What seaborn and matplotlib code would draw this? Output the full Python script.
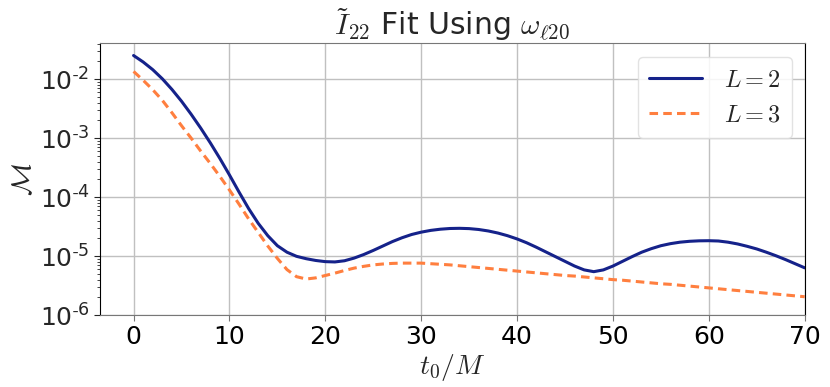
import numpy as np
import pandas as pd
import matplotlib
matplotlib.use("Agg")
import matplotlib.pyplot as plt
import matplotlib.ticker as mticker
import seaborn as sns

# t0/M sample points
t0 = list(range(0, 71))

# log10 of mismatch
log10_M_L2 = [-1.600, -1.710, -1.840, -1.995, -2.175, -2.375, -2.595, -2.830, -3.080, -3.345,
              -3.625, -3.915, -4.195, -4.445, -4.655, -4.825, -4.935, -5.005, -5.045, -5.075,
              -5.095, -5.100, -5.080, -5.035, -4.975, -4.905, -4.830, -4.755, -4.690, -4.635,
              -4.595, -4.565, -4.545, -4.533, -4.530, -4.535, -4.550, -4.575, -4.610, -4.655,
              -4.710, -4.775, -4.850, -4.930, -5.010, -5.090, -5.170, -5.235, -5.265, -5.235,
              -5.170, -5.090, -5.010, -4.935, -4.875, -4.825, -4.790, -4.765, -4.750, -4.742,
              -4.740, -4.745, -4.765, -4.795, -4.835, -4.880, -4.935, -4.995, -5.060, -5.130,
              -5.200]

log10_M_L3 = [-1.87, -2.02, -2.18, -2.36, -2.57, -2.79, -3.00, -3.22, -3.43, -3.65,
              -3.88, -4.12, -4.37, -4.60, -4.83, -5.04, -5.23, -5.35, -5.39, -5.37,
              -5.33, -5.29, -5.245, -5.205, -5.175, -5.15, -5.135, -5.125, -5.12, -5.12,
              -5.12, -5.13, -5.14, -5.15, -5.165, -5.18, -5.195, -5.21, -5.225, -5.24,
              -5.255, -5.27, -5.285, -5.30, -5.315, -5.33, -5.34, -5.355, -5.37, -5.385,
              -5.40, -5.41, -5.425, -5.44, -5.455, -5.47, -5.48, -5.495, -5.51, -5.525,
              -5.54, -5.555, -5.57, -5.585, -5.60, -5.615, -5.63, -5.645, -5.66, -5.675,
              -5.69]

series_labels = [r"$L=2$", r"$L=3$"]
colors = ["#15228a", "#ff7f3f"]
y_tick_values = [1e-6, 1e-5, 1e-4, 1e-3, 1e-2]
x_tick_values = [0, 10, 20, 30, 40, 50, 60, 70]

df = pd.concat([
    pd.DataFrame({"t0": t0, "M": np.power(10.0, log10_M_L2), "L": series_labels[0]}),
    pd.DataFrame({"t0": t0, "M": np.power(10.0, log10_M_L3), "L": series_labels[1]}),
])

sns.set_style("ticks")
plt.rcParams["mathtext.fontset"] = "cm"
plt.rcParams["axes.unicode_minus"] = False
plt.rcParams["font.family"] = ["DejaVu Sans"]

fig = plt.figure(figsize=(8.3, 3.87), dpi=100)
ax = fig.add_axes([0.1205, 0.186, 0.849, 0.703])

sns.lineplot(data=df, x="t0", y="M", hue="L", style="L",
             palette=dict(zip(series_labels, colors)),
             dashes={series_labels[0]: "", series_labels[1]: (2.8, 1.7)},
             linewidth=2.2, ax=ax)

ax.set_yscale("log")
ax.set_xlim(-3.5, 70)
ax.set_ylim(1e-6, 4.1e-2)
ax.set_xticks(x_tick_values)
ax.set_yticks(y_tick_values)


def log_fmt(v, pos):
    e = int(round(np.log10(v)))
    if e < 0:
        return r"$\mathdefault{10^{\text{-}%d}}$" % (-e)
    return r"$\mathdefault{10^{%d}}$" % e


ax.yaxis.set_major_formatter(mticker.FuncFormatter(log_fmt))
ax.yaxis.set_minor_locator(mticker.LogLocator(base=10, subs=np.arange(2, 10), numticks=20))
ax.yaxis.set_minor_formatter(mticker.NullFormatter())
ax.tick_params(axis="both", which="major", labelsize=18, length=4)
ax.tick_params(axis="y", which="minor", length=2, width=0.6, left=True)
ax.grid(True, which="major", color="#c0c0c0", linewidth=1.0)
ax.set_axisbelow(True)

ax.set_xlabel(r"$t_0/M$", fontsize=20, labelpad=2)
ax.set_ylabel(r"$\mathcal{M}$", fontsize=20, labelpad=2)
ax.set_title(r"$\tilde{I}_{22}$ Fit Using $\omega_{\ell 20}$", fontsize=21.5, pad=5)

for side in ["top", "bottom"]:
    ax.spines[side].set_color("#777777")
for side in ["left", "right"]:
    ax.spines[side].set_color("black")
ax.tick_params(axis="x", colors="#777777", labelcolor="black")

leg = ax.legend(loc="upper right", fontsize=17.5, frameon=True, handlelength=2.2,
                borderpad=0.45, labelspacing=0.45, handletextpad=0.9,
                borderaxespad=0, bbox_to_anchor=(0.982, 0.949))
leg.get_frame().set_edgecolor("#dddddd")
leg.get_frame().set_alpha(0.85)

fig.savefig("out.png", dpi=100)
